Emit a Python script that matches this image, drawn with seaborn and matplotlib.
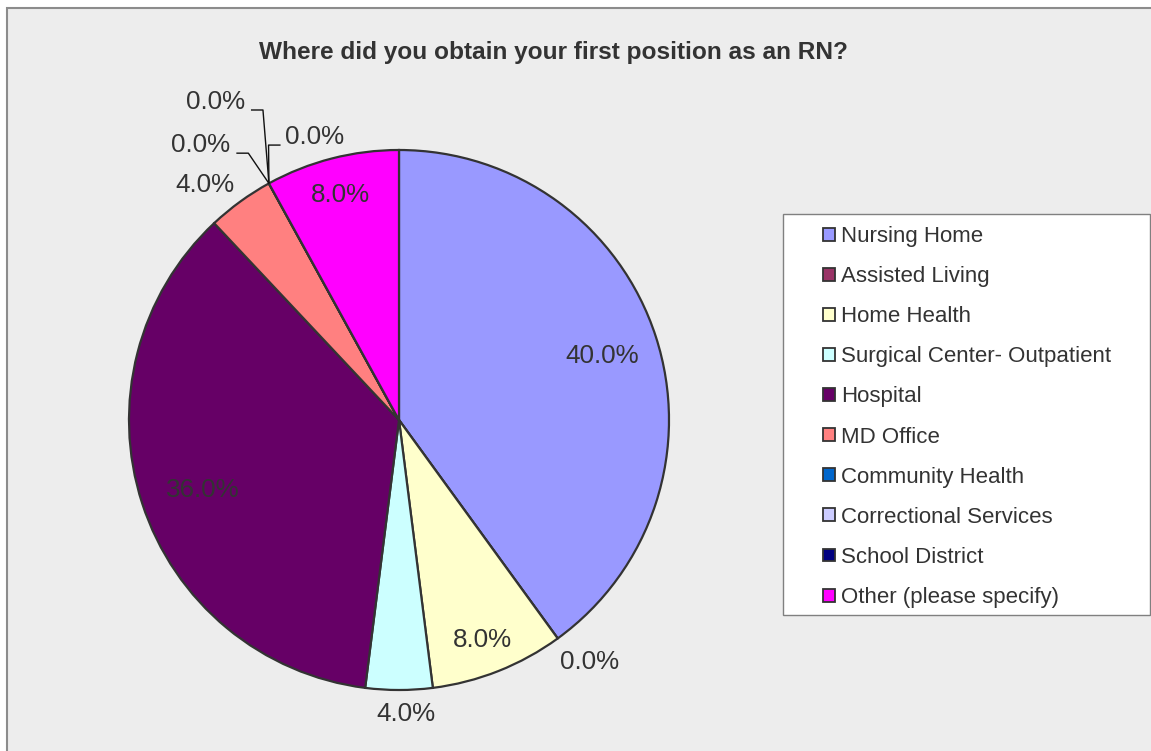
import numpy as np
import matplotlib
matplotlib.use("Agg")
import matplotlib.pyplot as plt
from matplotlib.patches import Rectangle, Patch
import seaborn as sns

# Survey answers: share of respondents (%) per first-job setting
categories = [
    "Nursing Home", "Assisted Living", "Home Health",
    "Surgical Center- Outpatient", "Hospital", "MD Office",
    "Community Health", "Correctional Services", "School District",
    "Other (please specify)",
]
shares = [40.0, 0.0, 8.0, 4.0, 36.0, 4.0, 0.0, 0.0, 0.0, 8.0]
slice_hex = ["#9999FF", "#993366", "#FFFFCC", "#CCFFFF", "#660066",
             "#FF8080", "#0066CC", "#CCCCFF", "#000080", "#FF00FF"]
chart_title = "Where did you obtain your first position as an RN?"

# label placement: radial distance (pie radius = 1) and angular nudge (deg)
label_radius = [0.79, 1.14, 0.87, 1.09, 0.77, 1.13, 1.255, 1.36, 1.094, 0.86]
label_nudge = [-0.6, 2.3, -0.9, 1.4, 1.6, 3.6, 7.0, 1.2, -12.1, 0.3]
leader_slices = [6, 7, 8]

sns.set_theme(style="white")
plt.rcParams["font.family"] = ["Liberation Sans", "DejaVu Sans"]
palette = sns.color_palette(slice_hex)
ink = "#333333"

W, H = 1151, 751
fig = plt.figure(figsize=(W / 100, H / 100), dpi=100)
fig.patch.set_facecolor("white")

# chart area background with its frame
fig.patches.append(Rectangle((6.5 / W, -0.1), 1.2, 1 - 7.5 / H + 0.1,
                             transform=fig.transFigure, facecolor="#EDEDED",
                             edgecolor="#8C8C8C", linewidth=1.5, zorder=-2))

cx, cy, R = 399, 420, 270
ax = fig.add_axes([(cx - R) / W, (H - cy - R) / H, 2 * R / W, 2 * R / H])
ax.set_zorder(1)
ax.patch.set_visible(False)
ax.pie(shares, colors=palette, startangle=90, counterclock=False, radius=1,
       wedgeprops=dict(edgecolor=ink, linewidth=1.6))
ax.set_xlim(-1, 1)
ax.set_ylim(-1, 1)
ax.set_aspect("equal")
ax.axis("off")

# percentage labels
cum = np.concatenate([[0], np.cumsum(shares)[:-1]])
theta1 = 90 - 360 * cum / 100.0
theta2 = theta1 - 360 * np.array(shares) / 100.0
mid = (theta1 + theta2) / 2

texts = []
for i, v in enumerate(shares):
    a = np.deg2rad(mid[i] + label_nudge[i])
    r = label_radius[i]
    t = ax.text(r * np.cos(a), r * np.sin(a), f"{v:.1f}%", ha="center",
                va="center", fontsize=18.7, color=ink, clip_on=False)
    texts.append(t)

# leader lines for the zero-width slices
fig.canvas.draw()
renderer = fig.canvas.get_renderer()
px = 1.0 / R
for i in leader_slices:
    a = np.deg2rad(mid[i])
    ax_, ay_ = np.cos(a), np.sin(a)
    bb = texts[i].get_window_extent(renderer).transformed(ax.transData.inverted())
    ty = (bb.y0 + bb.y1) / 2 - 8 * px
    if bb.x1 < ax_:
        x_start = bb.x1 + 6 * px
        x_elbow = x_start + 12 * px
    else:
        x_start = bb.x0 - 4 * px
        x_elbow = x_start - 12 * px
    ax.plot([x_start, x_elbow, ax_], [ty, ty, ay_], color="#111111",
            linewidth=1.0, clip_on=False, solid_capstyle="butt")

fig.text(553 / W, 1 - 52 / H, chart_title, ha="center", va="center",
         fontsize=17.6, fontweight="bold", color=ink)

# legend box
fig.patches.append(Rectangle((783 / W, 1 - 615 / H), (1150 - 783) / W,
                             (615 - 214) / H, transform=fig.transFigure,
                             facecolor="white", edgecolor="#808080",
                             linewidth=1.0, zorder=-1))
handles = [Patch(facecolor=c, edgecolor=ink, linewidth=1.3) for c in palette]
leg = fig.legend(handles, categories, loc="upper left",
                 bbox_to_anchor=(823 / W, 1 - 226 / H), frameon=False,
                 fontsize=16, handlelength=0.52, handleheight=0.52,
                 handletextpad=0.3, labelspacing=0.86, borderpad=0,
                 borderaxespad=0, labelcolor=ink)
leg.set_zorder(2)

fig.savefig("out.png", dpi=100, facecolor=fig.get_facecolor())
